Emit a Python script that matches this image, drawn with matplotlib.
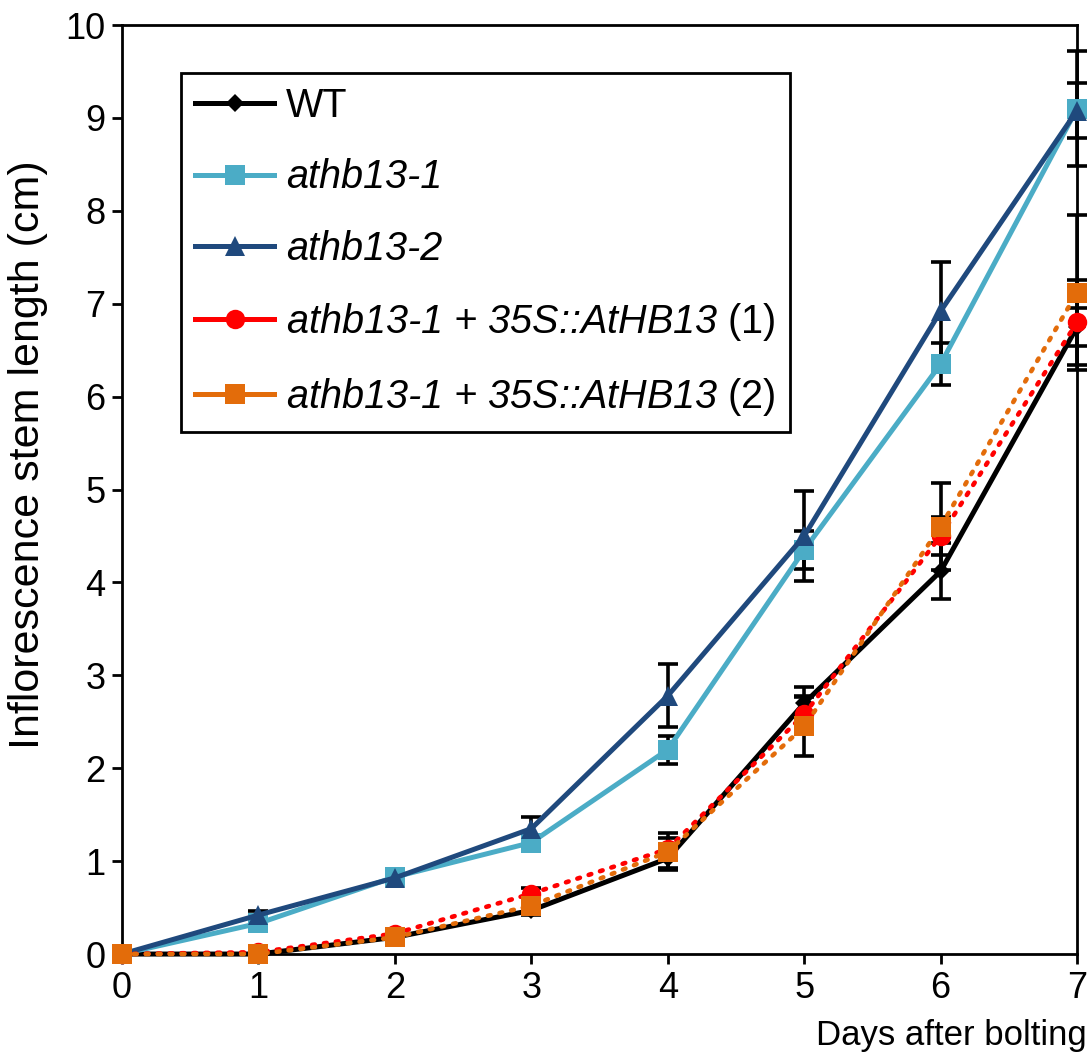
import matplotlib
matplotlib.use('Agg')
import matplotlib.pyplot as plt
from matplotlib.lines import Line2D
import numpy as np

plt.rcParams['font.family'] = ['Liberation Sans', 'DejaVu Sans']
plt.rcParams['mathtext.fontset'] = 'custom'
plt.rcParams['mathtext.rm'] = 'Liberation Sans'
plt.rcParams['mathtext.it'] = 'Liberation Sans:italic'

days = [0, 1, 2, 3, 4, 5, 6, 7]

# mean stem length (cm)
wt = [0, 0, 0.18, 0.47, 1.03, 2.70, 4.12, 6.75]
athb13_1 = [0, 0.33, 0.83, 1.20, 2.20, 4.35, 6.35, 9.10]
athb13_2 = [0, 0.42, 0.82, 1.35, 2.78, 4.50, 6.92, 9.08]
comp1 = [0, 0.02, 0.22, 0.65, 1.13, 2.58, 4.50, 6.80]
comp2 = [0, 0.00, 0.18, 0.52, 1.10, 2.45, 4.60, 7.12]

# error bars
wt_err = [0, 0, 0.02, 0.05, 0.10, 0.17, 0.30, 0.20]
athb13_1_err = [0, 0.03, 0.03, 0.05, 0.15, 0.20, 0.23, 0.62]
athb13_2_err = [0, 0.04, 0.04, 0.13, 0.34, 0.48, 0.53, 0.30]
comp1_err = [0, 0, 0.02, 0.06, 0.12, 0.20, 0.20, 0.46]
comp2_err = [0, 0, 0.02, 0.07, 0.20, 0.32, 0.47, 0.83]

# legend labels; everything but "WT" and "(n)" is italic
labels = ['WT', 'athb13-1', 'athb13-2',
          'athb13-1 + 35S::AtHB13 $\\mathrm{(1)}$',
          'athb13-1 + 35S::AtHB13 $\\mathrm{(2)}$']
colors = ['#000000', '#4bacc6', '#1f497d', '#ff0000', '#e36c0a']
markers = ['D', 's', '^', 'o', 's']
msizes = [9, 14, 14, 14, 14]
styles = ['-', '-', '-', (0, (0.6, 2.0)), (0, (0.6, 2.0))]
widths = [3.6, 3.6, 3.6, 3.3, 3.3]

series = [wt, athb13_1, athb13_2, comp1, comp2]
errs = [wt_err, athb13_1_err, athb13_2_err, comp1_err, comp2_err]
order = [1, 2, 0, 3, 4]

fig = plt.figure(figsize=(10.92, 10.61), dpi=100)
ax = fig.add_axes([0.1117, 0.1008, 0.8746, 0.8756])

for i in order:
    e = [v if v > 0 else np.nan for v in errs[i]]
    ax.errorbar(days, series[i], yerr=e, fmt='none', ecolor='black',
                elinewidth=2.6, capsize=7, capthick=2.6, zorder=2.6, clip_on=False)
for i in order:
    ax.plot(days, series[i], color=colors[i], linestyle=styles[i], linewidth=widths[i],
            marker=markers[i], markersize=msizes[i], markeredgewidth=0,
            dash_capstyle='round', zorder=3 + i * 0.1, clip_on=False)

ax.set_xlim(0, 7)
ax.set_ylim(0, 10)
ax.set_xticks(range(0, 8))
ax.set_yticks(range(0, 11))
for s in ax.spines.values():
    s.set_linewidth(2)
ax.tick_params(direction='out', length=7, width=2, labelsize=26, pad=5)
fig.text(0.9954, 0.0245, 'Days after bolting', fontsize=25, ha='right', va='center')
fig.text(0.026, 0.571, 'Inflorescence stem length (cm)', rotation=90,
         fontsize=31, ha='center', va='center')

handles = [Line2D([0], [0], color=colors[i], linewidth=3.6, marker=markers[i],
                  markersize=msizes[i], markeredgewidth=0) for i in range(5)]
leg = ax.legend(handles, labels, loc='upper left', bbox_to_anchor=(0.062, 0.948),
                fontsize=28.5, frameon=True, fancybox=False, edgecolor='black',
                framealpha=1, handlelength=2.0, handletextpad=0.3,
                labelspacing=0.84, borderpad=0.35, borderaxespad=0)
leg.get_frame().set_linewidth(2)
for t in leg.get_texts()[1:]:
    t.set_fontstyle('italic')

fig.savefig('out.png', dpi=100)
